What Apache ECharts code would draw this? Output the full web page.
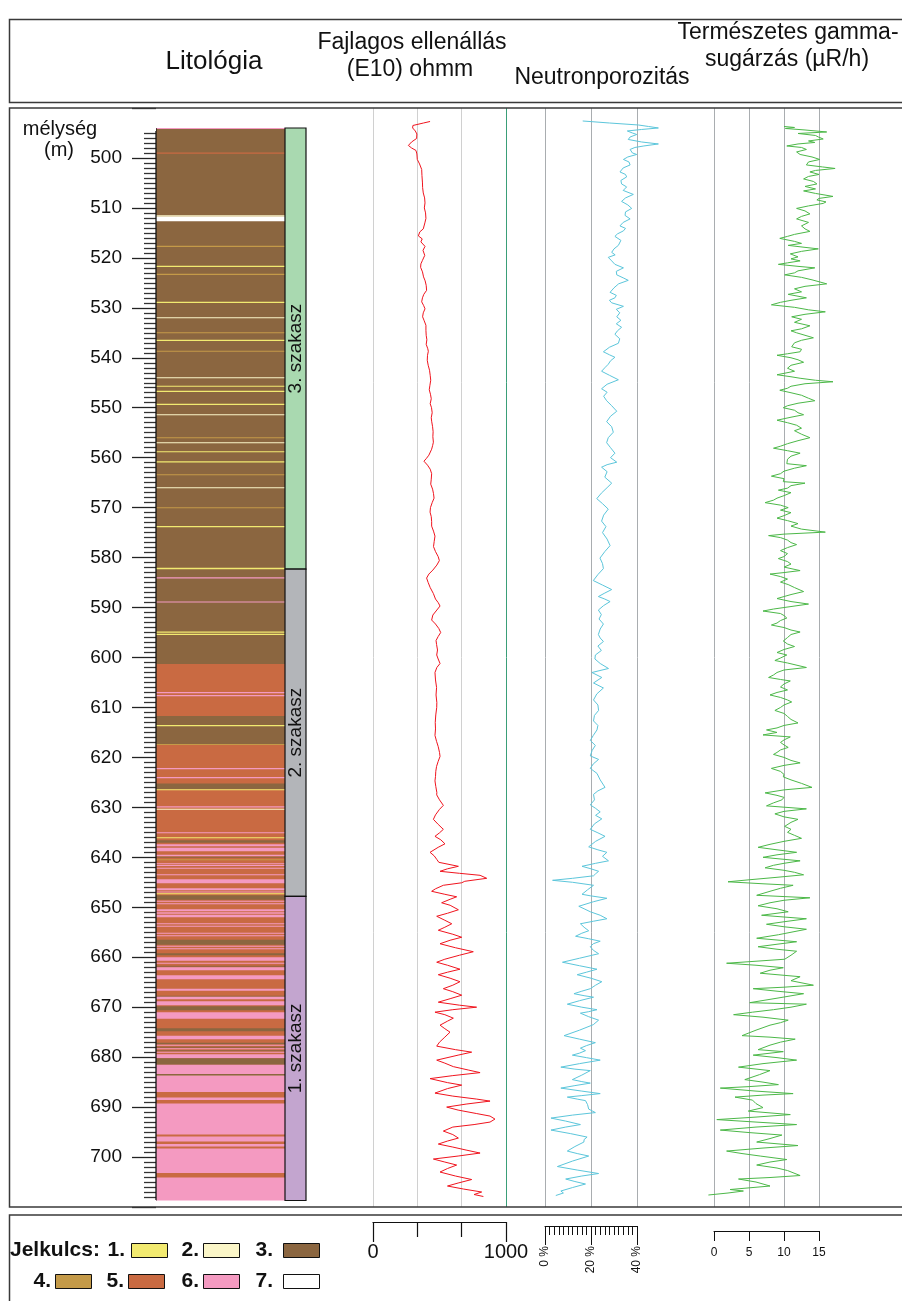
<!DOCTYPE html>
<html>
<head>
<meta charset="utf-8">
<script src="https://cdn.jsdelivr.net/npm/echarts@6/dist/echarts.min.js"></script>
<style>
  html, body { margin: 0; padding: 0; background: #ffffff; }
  #chart { width: 902px; height: 1301px; }
</style>
</head>
<body>
<div id="chart"></div>
<script>
// ---------------------------------------------------------------
// Well log: lithology column, stages, resistivity, neutron porosity
// and natural gamma radiation against depth (m).
// ---------------------------------------------------------------

// Lithology beds: [top depth, bottom depth, lithology code 1..7]
// Thick beds first, thin interbeds drawn over them afterwards.
const lithology = [
  [494.0, 601.3, 3], [601.3, 611.7, 5], [611.7, 617.5, 3], [617.5, 683.7, 5], [683.7, 708.7, 6],
  [494.0, 494.2, 6], [498.9, 499.15, 5], [511.45, 511.75, 2], [511.75, 512.65, 7],
  [517.6, 517.85, 4], [521.6, 521.85, 1], [523.2, 523.45, 4], [528.8, 529.05, 1],
  [531.9, 532.1, 2], [534.9, 535.1, 4], [536.4, 536.65, 1], [538.6, 538.8, 4],
  [543.9, 544.1, 2], [545.6, 545.8, 1], [546.6, 546.85, 1], [549.2, 549.45, 1],
  [551.3, 551.5, 2], [555.9, 556.1, 4], [556.9, 557.1, 2], [558.7, 558.9, 1],
  [560.7, 560.95, 1], [563.3, 563.5, 4], [565.9, 566.1, 2], [569.9, 570.1, 4],
  [573.7, 573.95, 1], [582.05, 582.35, 1], [583.95, 584.2, 6], [588.8, 589.0, 6],
  [594.8, 595.05, 1], [595.25, 595.5, 1], [606.9, 607.15, 6], [607.5, 607.75, 6],
  [613.5, 613.75, 1], [617.3, 617.5, 4], [622.1, 622.35, 6], [623.9, 624.15, 6],
  [625.2, 626.35, 3], [626.35, 626.55, 1], [629.8, 630.05, 6], [630.3, 630.5, 2],
  [635.0, 635.2, 6], [636.0, 636.2, 1], [636.6, 637.1, 3], [637.4, 637.8, 6],
  [638.1, 638.8, 6], [639.5, 639.8, 6], [639.9, 640.1, 3], [640.4, 640.6, 4],
  [641.2, 641.4, 6], [641.55, 641.75, 6], [642.1, 642.3, 6], [643.4, 643.6, 6],
  [644.4, 645.2, 6], [646.2, 646.6, 6], [646.85, 647.05, 6], [647.2, 647.4, 1],
  [647.6, 648.5, 3], [648.7, 648.9, 6], [649.2, 649.4, 6], [650.4, 650.8, 6],
  [651.0, 651.3, 6], [651.5, 652.0, 6], [653.2, 653.4, 6], [653.7, 653.9, 6],
  [655.1, 655.3, 6], [655.6, 655.8, 6], [656.5, 657.5, 3], [657.7, 657.9, 6],
  [658.2, 658.4, 6], [659.2, 659.6, 3], [660.0, 660.7, 6], [661.1, 661.3, 6],
  [661.7, 661.9, 3], [662.0, 662.6, 6], [663.6, 664.4, 6], [666.3, 666.7, 6],
  [667.7, 667.85, 3], [667.9, 668.4, 6], [668.8, 669.6, 6], [669.8, 670.6, 3],
  [671.0, 672.3, 6], [674.2, 674.8, 3], [675.7, 676.4, 6], [677.1, 677.4, 3],
  [677.5, 677.7, 6], [677.9, 678.05, 3], [678.2, 678.4, 6], [678.6, 678.75, 3],
  [678.9, 679.1, 6], [679.4, 680.2, 6], [680.2, 681.5, 3], [681.5, 683.4, 6],
  [683.4, 683.7, 3], [687.0, 688.1, 5], [688.6, 689.3, 5], [695.5, 695.9, 5],
  [696.9, 697.4, 5], [697.9, 698.3, 5], [703.2, 704.1, 5]
];

// Stages: [top depth, bottom depth]
const stageDepths = [[494.0, 582.3], [582.3, 647.8], [647.8, 708.7]];
const stageNames = ['3. szakasz', '2. szakasz', '1. szakasz'];

// Resistivity (E10), ohmm: [depth, value]
const resistivity = [
  [492.7,429],[493.0,380],[493.5,300],[494.0,298],[494.6,318],[495.2,330],[496.1,328],[496.8,290],[497.5,266],[498.0,290],
  [498.5,323],[499.2,330],[500.3,333],[501.2,350],[502.3,366],[503.5,368],[505.0,372],[505.9,373],[507.0,378],[508.0,388],
  [509.0,391],[510.0,386],[511.0,395],[512.1,398],[513.0,390],[514.2,378],[514.8,352],[515.6,341],[516.2,370],[516.8,360],
  [517.7,391],[518.5,376],[519.5,389],[520.5,372],[521.2,360],[521.9,358],[522.8,372],[523.8,380],[524.6,392],[525.5,400],
  [526.5,403],[527.3,382],[528.0,372],[528.8,366],[529.5,380],[530.2,391],[531.0,378],[531.8,373],[532.6,385],[533.5,398],
  [534.5,398],[535.5,400],[536.4,405],[537.3,400],[538.2,412],[538.7,416],[539.5,410],[540.5,408],[541.5,415],[542.5,425],
  [543.5,430],[544.5,434],[545.5,428],[546.4,423],[547.3,432],[548.2,438],[549.2,430],[550.0,440],[551.0,445],[552.0,438],
  [552.7,441],[553.8,448],[554.8,452],[555.8,450],[556.9,454],[557.6,448],[558.3,441],[559.5,420],[560.2,400],[560.7,383],
  [561.5,410],[562.3,430],[563.2,441],[564.3,438],[565.3,434],[566.3,448],[567.2,455],[568.1,459],[569.0,445],[570.0,432],
  [570.9,429],[571.8,438],[572.8,441],[573.7,441],[574.7,455],[575.7,466],[576.8,460],[577.8,455],[578.8,470],[579.8,490],
  [580.6,499],[581.5,480],[582.5,450],[583.3,420],[584.1,403],[585.0,415],[586.0,430],[587.2,454],[588.3,470],[589.0,490],
  [589.7,504],[590.5,480],[591.5,450],[592.5,441],[593.3,470],[594.2,495],[595.0,509],[595.8,490],[596.6,474],[597.4,478],
  [598.5,485],[599.5,479],[600.3,490],[601.2,504],[602.0,480],[603.0,466],[604.5,470],[606.0,478],[607.5,474],[609.0,480],
  [610.0,479],[611.5,472],[613.0,468],[614.3,470],[615.6,466],[616.8,478],[617.8,490],[619.0,500],[619.8,504],[620.8,490],
  [621.8,478],[622.8,472],[623.8,470],[624.7,466],[625.8,472],[627.0,480],[627.5,479],[628.5,500],[629.6,529],[630.4,500],
  [631.5,470],[632.4,454],[633.4,490],[634.4,529],[635.1,500],[635.8,466],[636.5,510],[637.3,541],[638.0,490],[639.0,429],
  [639.7,460],[640.4,479],[641.0,495],[641.4,504],[641.8,642],[642.3,560],[642.8,504],[643.2,650],[643.6,805],[644.2,855],
  [644.8,690],[645.1,667],[645.6,529],[646.3,470],[646.8,441],[647.4,540],[647.9,629],[648.4,580],[649.1,516],[649.6,580],
  [650.5,642],[651.2,560],[651.8,479],[652.6,540],[653.3,592],[654.0,540],[654.6,491],[655.4,600],[656.0,667],[656.6,580],
  [657.3,504],[658.1,620],[658.9,754],[659.6,650],[660.4,540],[661.0,479],[661.6,560],[662.4,654],[663.0,560],[663.5,491],
  [664.2,580],[664.9,654],[665.6,600],[666.3,529],[666.9,600],[667.6,667],[668.3,580],[669.0,491],[669.6,650],[670.0,779],
  [670.5,600],[671.0,466],[671.5,540],[672.2,604],[672.8,560],[673.6,504],[674.3,540],[675.0,579],[676.0,540],[677.0,500],
  [677.8,479],[678.5,620],[679.0,742],[679.6,640],[680.6,479],[681.2,540],[681.9,604],[682.6,720],[683.1,805],[683.7,600],
  [684.3,429],[685.1,560],[685.6,667],[686.3,560],[687.2,466],[687.8,600],[688.4,780],[688.8,880],[689.4,700],[690.0,554],
  [690.6,640],[691.3,780],[691.8,880],[692.4,917],[693.0,880],[693.5,760],[694.0,600],[694.8,529],[695.5,600],[696.2,642],
  [696.8,560],[697.4,491],[698.0,600],[698.6,700],[699.2,805],[699.8,640],[700.4,454],[701.0,540],[701.6,629],[702.3,560],
  [703.0,504],[703.8,620],[704.5,742],[705.2,640],[705.8,560],[706.4,680],[707.0,817],[707.5,760],[707.9,830]
];

// Neutron porosity, %: [depth, value]
const neutron = [
  [492.6,16.4],[493.0,28],[493.4,40.6],[493.7,45],[494.0,49.3],[494.3,42],[494.6,35.8],[495.0,38],[495.3,39.9],[495.8,37],
  [496.3,36.2],[496.8,42],[497.2,49.3],[497.6,43],[497.9,39.1],[498.3,37],[498.6,36.2],[499.0,38],[499.3,39.9],[499.8,36],
  [500.3,34.1],[500.8,36.5],[501.4,37],[502.0,34],[502.8,32.6],[503.3,35],[503.8,35.5],[504.5,33],[505.2,33.3],[505.8,35.5],
  [506.5,34],[507.3,38.4],[508.0,35],[508.7,33.3],[509.4,36],[510.1,37.7],[510.8,35],[511.5,34.8],[512.2,37],[512.9,34],
  [513.6,32.6],[514.1,35],[514.6,34.1],[515.2,31.5],[515.7,30.4],[516.5,33],[517.5,31.9],[518.2,30],[518.9,29],[519.4,30.5],
  [519.9,27.5],[520.6,29],[521.3,30.4],[522.0,34.1],[522.7,31],[523.4,31.2],[524.0,34],[524.5,36.2],[525.2,32],[526.0,30],
  [526.9,28.3],[527.5,31],[528.0,30.4],[528.5,28],[529.0,29],[529.7,34.1],[530.3,31],[531.0,32.5],[531.8,31.2],[532.5,33],
  [533.2,31],[533.9,33.3],[534.6,31.5],[535.3,30.4],[536.2,32.5],[537.1,31.9],[537.9,28],[538.8,25.4],[539.4,28],[539.9,30.4],
  [540.6,28.5],[541.3,27.5],[542.0,26],[542.7,24.6],[543.5,28],[544.4,31.9],[545.3,27],[546.2,24.6],[546.9,27],[547.7,25.5],
  [548.6,26.8],[549.6,29],[550.7,31.2],[551.7,28.5],[552.8,26.8],[553.8,29],[554.9,29.7],[556.0,27.5],[557.0,26.8],[558.0,28.5],
  [559.1,30.4],[560.0,28.5],[560.9,31.2],[561.4,27],[561.9,24.6],[562.8,27],[563.9,26],[565.1,29],[566.0,27],[567.1,24.5],
  [568.2,22.5],[569.2,25],[570.3,27.5],[571.5,25.5],[572.7,24.6],[573.8,26.5],[575.0,25],[576.3,27],[577.6,28.3],[578.8,26],
  [580.1,23.9],[581.2,25],[582.2,25.4],[583.4,23],[584.6,21],[585.5,25],[586.4,29],[587.1,26],[587.8,23.2],[588.3,26],
  [588.8,28.3],[589.6,25.5],[590.5,23.2],[591.4,24.5],[592.3,23.5],[593.3,25.4],[594.3,24],[595.4,23.2],[596.1,24],[596.8,25.4],
  [597.7,23],[598.6,24.5],[599.5,21.9],[600.3,21.7],[601.2,24],[602.2,27.6],[603.0,20.4],[604.0,24.7],[605.1,21.1],[606.1,25.4],
  [607.3,22.5],[608.5,21.1],[609.5,23],[610.6,23.3],[611.6,21.5],[612.7,21.1],[613.6,23],[614.5,22.6],[615.6,21],[616.6,19.7],
  [617.6,21.9],[618.6,20.5],[619.7,19.7],[620.4,23.3],[621.3,21],[622.2,19.7],[623.2,22.6],[624.5,24],[626.0,26.1],[626.7,23],
  [627.4,21.1],[628.5,21.5],[629.5,19.7],[630.2,22],[630.9,24],[631.6,22],[632.3,24.7],[633.3,21.5],[634.4,19.7],[635.1,23],
  [635.8,26.1],[636.8,22],[637.9,19],[638.5,23],[639.0,26.9],[639.8,25],[640.7,27.6],[641.2,22],[641.8,16.1],[642.3,20],
  [642.8,23.3],[643.3,22],[643.7,21.1],[644.2,12],[644.6,3.3],[645.0,12],[645.6,21.1],[646.5,18.5],[647.4,16.1],[647.7,19.7],
  [648.2,26.9],[648.9,21],[649.8,14.7],[650.3,17],[650.9,19.7],[651.6,24],[652.3,26.9],[652.8,21],[653.3,15.4],[654.0,17],
  [654.7,19],[655.2,16],[655.8,13.3],[656.3,19],[656.8,24],[657.3,21],[657.9,19.7],[658.6,21],[659.3,23.3],[660.2,15],
  [661.0,7.6],[661.7,15],[662.4,22.6],[663.0,18],[663.5,14],[664.2,20],[664.9,24.7],[665.6,22],[666.3,19.7],[666.8,16],
  [667.3,12.6],[667.7,17],[668.0,21.1],[668.7,15],[669.4,9.7],[670.0,16],[670.5,22.6],[670.9,19],[671.2,15.4],[671.9,19],
  [672.6,23.3],[673.5,21],[674.6,15],[675.7,8.3],[676.4,15],[677.1,21.9],[677.7,18],[678.2,15.4],[678.7,17.6],[679.2,15],
  [679.6,11.9],[680.1,18],[680.6,24],[681.3,15],[682.0,6.9],[682.4,13],[682.7,19.7],[683.6,16],[684.5,11.9],[684.9,16],
  [685.2,19.7],[685.7,13],[686.2,6.9],[686.8,16],[687.3,24],[687.7,16],[688.0,9.7],[688.4,14],[688.7,17.6],[689.5,18.5],
  [690.4,19],[691.1,21.9],[691.6,12],[692.2,2.6],[692.8,9],[693.5,15.4],[694.0,9],[694.6,2.6],[695.3,11],[696.0,18.3],
  [696.5,17],[697.0,16.9],[697.9,13],[698.8,9.7],[699.3,14],[699.8,19],[700.8,12],[701.9,5.4],[702.6,14],[703.3,23.3],
  [703.8,16],[704.4,9],[704.9,13],[705.4,17.6],[706.1,12],[706.8,6.9],[707.2,8],[707.7,4.7]
];

// Natural gamma radiation, µR/h: [depth, value]
const gamma = [
  [493.7,10],[493.9,11.5],[494.1,10.2],[494.4,13],[494.8,16.1],[495.1,12],[495.5,14.5],[495.8,14.9],[496.2,15.6],[496.6,13.5],
  [496.9,14.4],[497.2,12],[497.6,10.4],[497.9,12.5],[498.3,13.2],[498.8,11.8],[499.3,12.3],[499.8,14],[500.3,15.1],[500.8,13.5],
  [501.4,13.2],[501.8,15.5],[502.1,17.3],[502.5,14.5],[502.8,13.7],[503.3,15],[503.7,13.5],[504.2,12.8],[504.7,14.2],[505.2,14.7],
  [505.7,13],[506.2,14.5],[506.6,12.8],[507.1,14.5],[507.7,17],[508.1,15],[508.4,14.7],[508.8,16],[509.1,15.6],[509.6,13.5],
  [510.1,11.8],[510.6,13],[511.2,13.7],[511.7,12.5],[512.2,11.8],[512.9,13.5],[513.6,12.5],[514.2,13],[514.7,13.7],[515.3,11.5],
  [515.7,10.5],[516.1,9.4],[516.7,11.5],[517.1,12.5],[517.5,10.6],[517.9,13],[518.2,14.9],[518.7,12.5],[519.2,10.9],[519.8,12],
  [520.2,11],[520.6,12.3],[521.0,10.5],[521.3,9.2],[521.7,12],[522.0,14.4],[522.6,12],[523.0,11.5],[523.4,10.1],[523.9,12.5],
  [524.4,14],[525.2,16.1],[525.7,13],[526.2,11.5],[526.8,12.5],[527.3,10.6],[528.0,13.2],[528.5,11],[528.9,9.5],[529.4,8.2],
  [529.9,11.5],[530.4,13.5],[530.8,15.9],[531.3,13],[531.8,11.1],[532.3,12.5],[532.9,11.5],[533.6,13.7],[534.2,12.5],[534.6,11],
  [535.0,11.8],[535.5,13],[536.0,14.2],[536.5,12.5],[537.0,11.5],[537.8,11.1],[538.3,12.5],[538.8,12.3],[539.2,10.5],[539.5,9],
  [540.0,11],[540.4,12],[540.9,12.8],[541.5,11],[542.1,10.5],[542.7,11.5],[543.4,9],[543.8,11],[544.1,12.3],[544.5,14.5],
  [544.8,17],[545.2,13],[545.7,11],[546.1,10.5],[546.5,9.4],[547.0,11],[547.5,12.5],[548.1,13.5],[548.6,14.4],[549.1,12],
  [549.6,10.5],[550.0,9.9],[550.5,11.5],[551.0,12],[551.4,12.8],[551.9,11],[552.5,9],[553.0,10.5],[553.5,11.8],[554.1,12.5],
  [554.6,11.5],[555.3,12.5],[556.0,13.7],[556.6,12],[557.2,10.5],[557.7,9.5],[558.1,8.5],[558.6,10.5],[559.1,12.3],[559.7,11],
  [560.3,10.5],[561.2,10.4],[561.6,13.2],[562.1,11.5],[562.7,10],[563.2,9.5],[563.7,8.2],[564.2,10],[564.8,9.9],[565.1,13],
  [565.6,11],[566.1,10.5],[566.5,9.2],[567.0,11],[567.6,10],[568.1,9],[568.5,8.5],[569.0,7.3],[569.5,9.5],[570.0,10.6],
  [570.5,9.5],[571.0,11],[571.6,10],[572.1,9],[572.6,10.5],[573.2,12],[573.7,11],[574.3,12.5],[574.9,15.9],[575.3,10],
  [575.6,7.8],[576.0,9.5],[576.5,10.5],[577.0,11],[577.4,11.8],[578.0,10.5],[578.6,9.5],[579.2,10.5],[579.8,10],[580.2,9.2],
  [580.8,10.5],[581.3,11],[581.9,10],[582.6,12.3],[583.0,10],[583.3,8],[583.8,9.5],[584.3,10.5],[584.9,9.5],[585.4,10.6],
  [586.0,11.5],[586.8,12.8],[587.4,11],[587.8,10],[588.2,9],[588.8,11],[589.3,13.5],[589.8,11],[590.3,8.5],[590.7,7],
  [591.2,9.5],[591.6,10],[592.1,10.4],[592.6,9.5],[593.1,9],[593.5,8.2],[594.0,10],[594.5,11],[594.9,12.3],[595.4,11],
  [596.0,10.5],[596.7,9.9],[597.3,10.5],[597.8,11.5],[598.4,10],[599.0,9],[599.5,10.4],[600.1,9.5],[600.6,8.7],[601.1,10.5],
  [601.6,12],[602.0,13.2],[602.5,10],[603.0,9],[603.5,8.5],[604.0,7.8],[604.4,9.5],[604.7,10.9],[605.3,10],[605.9,9.5],
  [606.5,10.5],[607.0,9],[607.5,8],[608.0,9.5],[608.5,10.5],[608.9,11.1],[609.5,10],[610.0,9.5],[610.6,8.7],[611.2,10],
  [611.8,10.5],[612.4,11],[613.1,12],[613.6,10],[614.1,9],[614.5,7.5],[615.0,9],[615.5,7],[615.9,10.9],[616.5,10],
  [617.0,9.5],[617.5,10],[618.0,10.6],[618.5,9.5],[619.0,9],[619.4,8.5],[620.0,10],[620.6,11],[621.1,12.3],[621.6,10],
  [622.2,8.2],[622.8,9.5],[623.4,10],[623.9,9.9],[624.5,11],[625.2,12.5],[626.0,14],[626.5,10],[627.1,7.3],[627.6,9],
  [628.0,10],[628.5,9.7],[629.1,8.5],[629.7,7.5],[630.3,13.2],[630.8,10],[631.3,8.7],[631.9,10],[632.4,12],[633.0,11],
  [633.8,10.1],[634.4,11],[635.0,10.5],[635.6,11.5],[636.2,12.5],[636.8,10],[637.4,8],[638.0,6.3],[638.5,9],[639.0,11.8],
  [639.5,9],[640.0,7],[640.4,10],[640.7,12.3],[641.2,10],[641.6,8.5],[642.1,7.3],[642.6,10],[643.0,11.5],[643.5,12.8],
  [644.0,9],[644.5,5],[644.9,2],[645.3,7],[645.6,11.3],[646.2,9.5],[646.8,8],[647.6,6.1],[648.1,13.7],[648.6,10],
  [649.1,8],[649.7,6.3],[650.3,9],[650.9,10.6],[651.6,6.8],[652.3,13.2],[652.9,10],[653.4,7.5],[653.9,10],[654.4,13.2],
  [655.0,11],[655.5,9.2],[656.2,6.1],[656.9,11.8],[657.4,9],[657.9,6.3],[658.4,9],[658.8,11.8],[659.6,11],[660.4,10.1],
  [660.8,6],[661.2,1.8],[661.6,6],[662.1,9.9],[662.6,8],[663.2,6.6],[663.9,12.3],[664.7,11],[665.6,14.2],[666.0,10],
  [666.3,5.6],[666.8,9],[667.3,12.8],[668.2,9],[669.1,5.1],[669.4,13.2],[670.0,11],[670.5,8.5],[671.0,5.5],[671.5,2.8],
  [672.0,7],[672.6,10.6],[673.1,9.5],[673.6,8],[674.6,6],[675.7,4],[676.0,8],[676.4,11.6],[677.0,9.5],[677.6,8],
  [678.5,6.3],[678.9,9.9],[679.6,5.6],[680.1,9],[680.6,11.8],[681.3,7],[682.0,3.5],[682.7,8],[683.5,6.5],[684.5,4.4],
  [685.0,7],[685.5,9.2],[685.9,5],[686.2,0.9],[686.8,6],[687.3,11.3],[687.6,7],[688.0,3],[688.6,5.5],[689.3,6],
  [690.1,7],[690.8,4.9],[691.5,10.9],[692.0,6],[692.5,0.4],[693.0,6],[693.5,11.8],[694.0,6],[694.6,0.9],[695.1,5],
  [695.6,9.7],[696.3,8],[697.0,6.1],[697.7,12],[698.2,7],[698.8,1.8],[699.3,4],[699.8,6.6],[700.5,10.4],[701.0,8],
  [701.6,6.1],[702.2,9],[702.7,10.5],[703.7,12.3],[704.1,8],[704.4,3.5],[705.0,6],[705.8,8],[706.5,2.3],[706.8,4.2],
  [707.2,2],[707.6,-0.8]
];

// Legend entries (key numbers for the lithology codes 1..7)
const legendLabels = ['1.', '2.', '3.', '4.', '5.', '6.', '7.'];

// ---------------------------------------------------------------
const LITHO_COLORS = {
  1: '#f2ea70', 2: '#fbf6c8', 3: '#8b6640', 4: '#c49a48',
  5: '#c96a42', 6: '#f49ac1', 7: '#ffffff'
};
const STAGE_COLORS = ['#a9d9b0', '#b3b5b9', '#c3a5cf'];
const FONT = "'Liberation Sans', Arial, Helvetica, sans-serif";
const INK = '#111111';

const GRID_TOP = 108, GRID_H = 1099;
const colTop = Math.min.apply(null, lithology.map(b => b[0]));
const colBottom = Math.max.apply(null, lithology.map(b => b[1]));

const chart = echarts.init(document.getElementById('chart'), null, { renderer: 'canvas' });

function trackGrid(left, width) {
  return { left: left, width: width, top: GRID_TOP, height: GRID_H, containLabel: false };
}
function depthAxis(gridIndex) {
  return { type: 'value', gridIndex: gridIndex, min: 490, max: 710, interval: 10, inverse: true, show: false };
}

function renderBed(params, api) {
  const a = api.coord([0, api.value(0)]);
  const b = api.coord([1, api.value(1)]);
  return {
    type: 'rect',
    shape: { x: a[0], y: a[1], width: b[0] - a[0], height: Math.max(b[1] - a[1], 1) },
    style: { fill: LITHO_COLORS[api.value(2)] }
  };
}
function renderEdge(params, api) {
  const a = api.coord([0, api.value(0)]);
  const b = api.coord([0, api.value(1)]);
  return { type: 'line', shape: { x1: a[0], y1: a[1], x2: b[0], y2: b[1] }, style: { stroke: INK, lineWidth: 1.3 } };
}
function renderStage(params, api) {
  const a = api.coord([0, api.value(0)]);
  const b = api.coord([1, api.value(1)]);
  const i = params.dataIndex;
  return {
    type: 'group',
    children: [
      { type: 'rect', shape: { x: a[0], y: a[1], width: b[0] - a[0], height: b[1] - a[1] },
        style: { fill: STAGE_COLORS[i], stroke: INK, lineWidth: 1.2 } },
      { type: 'text', x: (a[0] + b[0]) / 2, y: (a[1] + b[1]) / 2, rotation: Math.PI / 2,
        style: { text: stageNames[i], fill: INK, font: '19px ' + FONT,
                 align: 'center', verticalAlign: 'middle', textAlign: 'center', textVerticalAlign: 'middle' } }
    ]
  };
}

function txt(x, y, text, size, opts) {
  opts = opts || {};
  return {
    type: 'text', x: x, y: y, z: 50,
    style: {
      text: text, fill: INK,
      font: (opts.bold ? 'bold ' : '') + size + 'px ' + FONT,
      align: opts.align || 'center', verticalAlign: 'middle',
      textAlign: opts.align || 'center', textVerticalAlign: 'middle'
    }
  };
}
function box(x, y, w, h) {
  return { type: 'rect', z: 40, shape: { x: x, y: y, width: w, height: h },
           style: { fill: 'none', stroke: '#3a3a3a', lineWidth: 1.5 } };
}

// legend key layout
const legendRows = [
  { y: 1250, labelRight: [125, 199, 273], swatchX: [131, 203, 283], codes: [1, 2, 3] },
  { y: 1281, labelRight: [51, 124, 199, 273], swatchX: [55, 128, 203, 283], codes: [4, 5, 6, 7] }
];
const legendGraphics = [];
legendRows.forEach(row => {
  row.codes.forEach((code, k) => {
    legendGraphics.push(txt(row.labelRight[k], row.y, legendLabels[code - 1], 21, { bold: true, align: 'right' }));
    legendGraphics.push({ type: 'rect', z: 45,
      shape: { x: row.swatchX[k] + 0.5, y: row.y - 7 + 0.5, width: 36, height: 14 },
      style: { fill: LITHO_COLORS[code], stroke: INK, lineWidth: 1 } });
  });
});

const lineSeries = (name, idx, data, color) => ({
  type: 'line', name: name, xAxisIndex: idx, yAxisIndex: idx,
  data: data.map(p => [p[1], p[0]]),
  showSymbol: false, symbol: 'none', clip: false, silent: true,
  lineStyle: { color: color, width: 1 }, animation: false, z: 5
});

// Track grid lines; the value ranges are widened by one interval so that
// excursions past the printed scale stay visible, with the outer lines hidden.
const trackSplit = color => ({ show: true, showMinLine: false, showMaxLine: false, lineStyle: { color: color, width: 1 } });

const option = {
  animation: false,
  backgroundColor: '#ffffff',
  grid: [
    trackGrid(156, 129),                       // 0 lithology + depth scale
    trackGrid(285, 21),                        // 1 stages
    trackGrid(373, 133),                       // 2 resistivity, 0..1000 ohmm
    trackGrid(545, 138),                       // 3 neutron porosity, 0..60 % (scale printed 0..40)
    trackGrid(679, 175),                       // 4 gamma, -5..20 (scale printed 0..15)
    { left: 373, width: 133, top: 1221, height: 1 },   // 5 resistivity scale
    { left: 545, width: 92, top: 1225, height: 1 },    // 6 neutron scale
    { left: 714, width: 105, top: 1230, height: 1 }    // 7 gamma scale
  ],
  xAxis: [
    { type: 'value', gridIndex: 0, min: 0, max: 1, show: false },
    { type: 'value', gridIndex: 1, min: 0, max: 1, show: false },
    { type: 'value', gridIndex: 2, min: 0, max: 1000, interval: 1000 / 3,
      axisLine: { show: false }, axisTick: { show: false }, axisLabel: { show: false },
      splitLine: { show: true, showMaxLine: false, lineStyle: { color: '#d0d0d0', width: 1 } } },
    { type: 'value', gridIndex: 3, min: 0, max: 60, interval: 20,
      axisLine: { show: false }, axisTick: { show: false }, axisLabel: { show: false },
      splitLine: { show: true, showMaxLine: false, lineStyle: { color: '#a9adb0', width: 1 } } },
    { type: 'value', gridIndex: 4, min: -5, max: 20, interval: 5,
      axisLine: { show: false }, axisTick: { show: false }, axisLabel: { show: false },
      splitLine: trackSplit('#a9adb0') },
    { type: 'value', gridIndex: 5, min: 0, max: 1000, interval: 1000, position: 'bottom',
      axisLine: { show: true, lineStyle: { color: INK, width: 1.2 } },
      axisTick: { show: true, length: 20, lineStyle: { color: INK, width: 1.2 } },
      minorTick: { show: true, splitNumber: 3, length: 15, lineStyle: { color: INK, width: 1.2 } },
      axisLabel: { margin: 20, fontSize: 20, color: INK, fontFamily: FONT, formatter: v => String(v) },
      splitLine: { show: false } },
    { type: 'value', gridIndex: 6, min: 0, max: 40, interval: 20, position: 'bottom',
      axisLine: { show: true, lineStyle: { color: INK, width: 1 } },
      axisTick: { show: true, length: 19, lineStyle: { color: INK, width: 1 } },
      minorTick: { show: true, splitNumber: 10, length: 9, lineStyle: { color: INK, width: 1 } },
      axisLabel: { margin: 20, fontSize: 12, rotate: 90, color: INK, fontFamily: FONT, formatter: '{value} %' },
      splitLine: { show: false } },
    { type: 'value', gridIndex: 7, min: 0, max: 15, interval: 5, position: 'bottom',
      axisLine: { show: true, lineStyle: { color: INK, width: 1 } },
      axisTick: { show: true, length: 10, lineStyle: { color: INK, width: 1 } },
      axisLabel: { margin: 16, fontSize: 12, color: INK, fontFamily: FONT },
      splitLine: { show: false } }
  ],
  yAxis: [
    { type: 'value', gridIndex: 0, min: 490, max: 710, interval: 10, inverse: true,
      axisLine: { show: false },
      axisTick: { show: true, length: 24, lineStyle: { color: '#222', width: 1.3 } },
      minorTick: { show: true, splitNumber: 10, length: 12, lineStyle: { color: '#333', width: 1.3 } },
      axisLabel: { margin: 34, fontSize: 19, color: INK, fontFamily: FONT, showMinLabel: false, showMaxLabel: false },
      splitLine: { show: false } },
    depthAxis(1), depthAxis(2), depthAxis(3), depthAxis(4),
    { type: 'value', gridIndex: 5, show: false },
    { type: 'value', gridIndex: 6, show: false },
    { type: 'value', gridIndex: 7, show: false }
  ],
  series: [
    { type: 'custom', name: 'Litológia', xAxisIndex: 0, yAxisIndex: 0, data: lithology,
      renderItem: renderBed, silent: true, animation: false, z: 2 },
    { type: 'custom', xAxisIndex: 0, yAxisIndex: 0, data: [[colTop, colBottom]],
      renderItem: renderEdge, silent: true, animation: false, z: 3 },
    { type: 'custom', xAxisIndex: 1, yAxisIndex: 1, data: stageDepths,
      renderItem: renderStage, silent: true, animation: false, z: 2 },
    Object.assign(lineSeries('Fajlagos ellenállás', 2, resistivity, '#f0141e'), {
      markLine: { silent: true, symbol: 'none', label: { show: false }, animation: false,
        lineStyle: { color: '#3a9e78', width: 1, type: 'solid' }, data: [{ xAxis: 1000 }] }
    }),
    lineSeries('Neutronporozitás', 3, neutron, '#5cc6db'),
    lineSeries('Természetes gamma-sugárzás', 4, gamma, '#4cb848')
  ],
  graphic: {
    elements: [
      box(9.5, 19.5, 900, 83),
      box(9.5, 108, 900, 1099),
      box(9.5, 1215, 900, 100),
      // hide minor ticks beyond the drilled interval
      { type: 'rect', z: 30, shape: { x: 140, y: 110, width: 16, height: 21 }, style: { fill: '#ffffff' } },
      { type: 'rect', z: 30, shape: { x: 140, y: 1200, width: 16, height: 6 }, style: { fill: '#ffffff' } },
      txt(214, 62, 'Litológia', 26),
      txt(412, 43, 'Fajlagos ellenállás', 23),
      txt(410, 70, '(E10) ohmm', 23),
      txt(602, 78, 'Neutronporozitás', 23),
      txt(788, 33, 'Természetes gamma-', 23),
      txt(787, 60, 'sugárzás (µR/h)', 23),
      txt(60, 129, 'mélység', 20),
      txt(59, 150, '(m)', 20),
      txt(10, 1250, 'Jelkulcs:', 21, { bold: true, align: 'left' })
    ].concat(legendGraphics)
  }
};

chart.setOption(option);
</script>
</body>
</html>
